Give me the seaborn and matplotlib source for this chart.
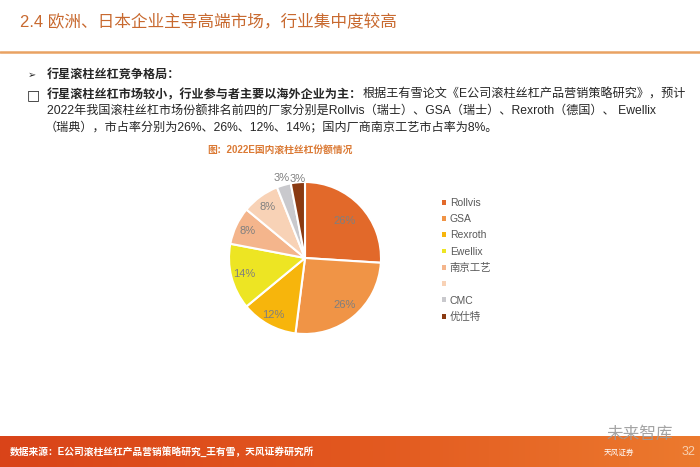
import matplotlib
matplotlib.use("Agg")
import matplotlib.pyplot as plt
import matplotlib.patches as mpatches
from matplotlib.colors import LinearSegmentedColormap
import seaborn as sns
import numpy as np

# ---- data ----
companies = ["Rollvis", "GSA", "Rexroth", "Ewellix", "南京工艺", "", "CMC", "优仕特"]
shares = [26, 26, 12, 14, 8, 8, 3, 3]
colors = ["#E2692A", "#F09446", "#F7B50C", "#EDE523", "#F4B58C", "#F8D2B6", "#C9C9CD", "#8A3A12"]
label_dist = [0.72, 0.81, 0.86, 0.83, 0.84, 0.83, 1.1, 1.04]

page_title = "2.4 欧洲、日本企业主导高端市场，行业集中度较高"
chart_title = "图：2022E国内滚柱丝杠份额情况"
bullet1 = "行星滚柱丝杠竞争格局："
bullet2_bold = "行星滚柱丝杠市场较小，行业参与者主要以海外企业为主："
bullet2_rest = "根据王有雪论文《E公司滚柱丝杠产品营销策略研究》，预计"
line3 = "2022年我国滚柱丝杠市场份额排名前四的厂家分别是Rollvis（瑞士）、GSA（瑞士）、Rexroth（德国）、 Ewellix"
line4 = "（瑞典），市占率分别为26%、26%、12%、14%；国内厂商南京工艺市占率为8%。"
source = "数据来源：E公司滚柱丝杠产品营销策略研究_王有雪，天风证券研究所"

sns.set_theme(style="white")
FAM = ['Liberation Sans', 'Noto Sans CJK SC', 'DejaVu Sans']
plt.rcParams['font.family'] = FAM

W, H = 700, 467
fig = plt.figure(figsize=(7, 4.67), dpi=100)
fig.patch.set_facecolor("white")


def fx(x):
    return x / W


def fy(y):
    return 1 - y / H


# ---- header ----
fig.text(fx(20), fy(22), page_title, color="#C8692F", fontsize=12, va="center", ha="left")
fig.add_artist(plt.Line2D([0, 1], [fy(52), fy(52)], color="#E9A263", lw=1.8))

# ---- body text ----
body_color = "#262626"
fs = 8.7
fig.text(fx(28), fy(75), "➢", color=body_color, fontsize=7, va="center", ha="left",
         family=['DejaVu Sans'])
fig.text(fx(47), fy(75), bullet1, color=body_color, fontsize=fs, va="center", ha="left",
         fontweight="bold")
fig.text(fx(27), fy(95), "□", color=body_color, fontsize=10, va="center", ha="left",
         family=['DejaVu Sans'], fontweight="bold")
t_b = fig.text(fx(47), fy(95), bullet2_bold, color=body_color, fontsize=fs, va="center",
               ha="left", fontweight="bold")
renderer = fig.canvas.get_renderer()
bb = t_b.get_window_extent(renderer=renderer)
fig.text(bb.x1 / fig.bbox.width, fy(95), bullet2_rest, color=body_color, fontsize=fs,
         va="center", ha="left")
fig.text(fx(47), fy(111), line3, color=body_color, fontsize=fs, va="center", ha="left")
fig.text(fx(45), fy(127), line4, color=body_color, fontsize=fs, va="center", ha="left")

# ---- chart title ----
fig.text(fx(207), fy(150), chart_title, color="#DB7A35", fontsize=7, va="center", ha="left",
         fontweight="bold")

# ---- pie ----
cx, cy, r = 305, 258, 76
ax = fig.add_axes([fx(cx - r), fy(cy + r), 2 * r / W, 2 * r / H])
wedges, texts, autotexts = ax.pie(
    shares, colors=colors, startangle=90, counterclock=False,
    wedgeprops=dict(edgecolor="white", linewidth=1.5),
    autopct=lambda p: f"{p:.0f}%", pctdistance=0.8,
    textprops=dict(color="#7F7F7F", fontsize=8))
for w, t, d in zip(wedges, autotexts, label_dist):
    ang = np.deg2rad((w.theta1 + w.theta2) / 2)
    t.set_position((d * np.cos(ang), d * np.sin(ang)))
    t.set_ha("center")
    t.set_va("center")
ax.set_xlim(-1, 1)
ax.set_ylim(-1, 1)
ax.set_aspect("equal")
ax.axis("off")

# ---- legend ----
handles = [mpatches.Patch(facecolor=c, edgecolor="none") for c in colors]
leg = fig.legend(handles, companies, loc="upper left",
                 bbox_to_anchor=(fx(442), fy(198)), frameon=False,
                 handlelength=0.35, handleheight=0.35, handletextpad=0.4,
                 labelspacing=0.6, fontsize=7.5, borderaxespad=0, borderpad=0)
for txt in leg.get_texts():
    txt.set_color("#595959")

# ---- footer ----
fax = fig.add_axes([0, 0, 1, fy(436)])
grad = np.linspace(0, 1, 256).reshape(1, -1)
cmap = LinearSegmentedColormap.from_list("foot", ["#D94419", "#E2571F", "#EC7A2E"])
fax.imshow(grad, aspect="auto", cmap=cmap, extent=[0, 1, 0, 1])
fax.axis("off")
fig.text(fx(10), fy(452), source, color="white", fontsize=7, va="center", ha="left",
         fontweight="bold")
fig.text(fx(682), fy(452), "32", color="#F7D0B0", fontsize=9, va="center", ha="left")
fig.text(fx(606), fy(434), "未来智库", color="#9A9A9A", fontsize=12, va="center", ha="left",
         alpha=0.9)
fig.text(fx(604), fy(453), "天风证券", color="white", fontsize=5.5, va="center", ha="left")

fig.savefig("out.png", dpi=100, facecolor="white")
